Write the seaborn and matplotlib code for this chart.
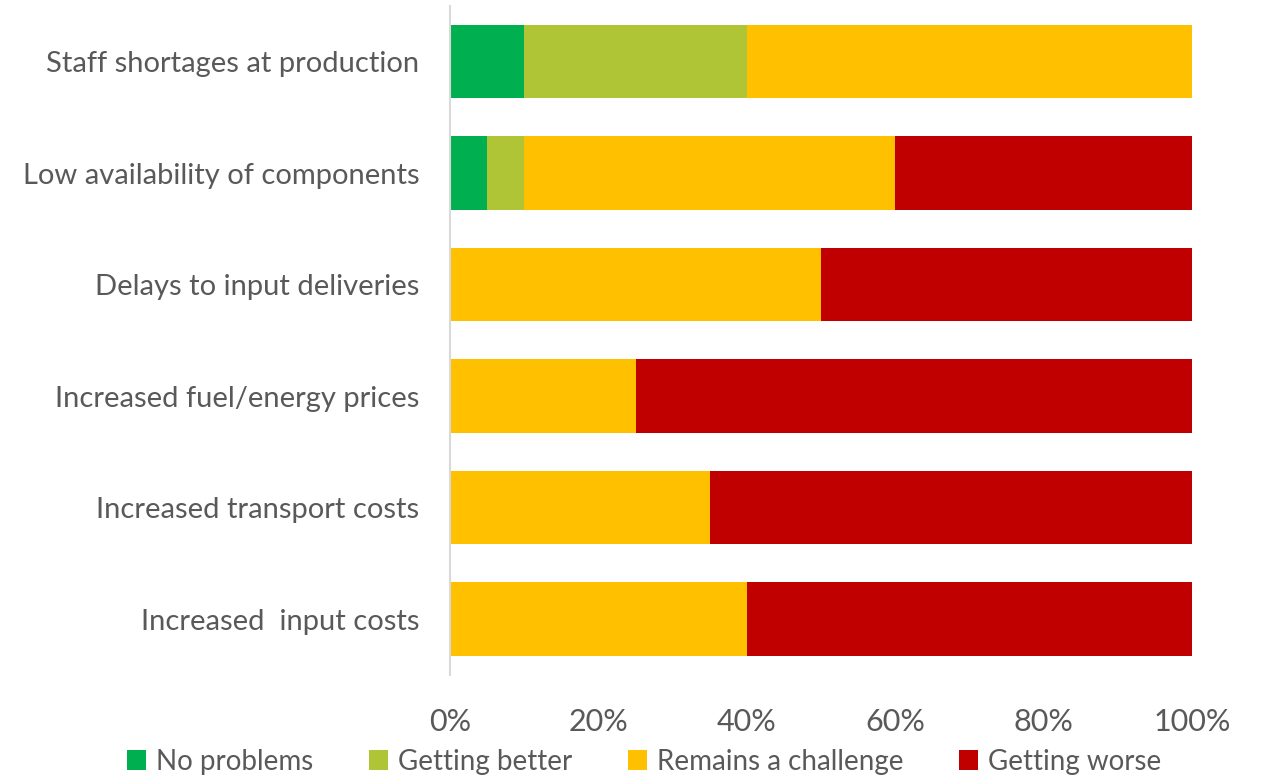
import matplotlib
matplotlib.use("Agg")
import matplotlib.pyplot as plt
import seaborn as sns
import pandas as pd
import numpy as np
from matplotlib.patches import Patch

categories = ["Staff shortages at production", "Low availability of components",
              "Delays to input deliveries", "Increased fuel/energy prices",
              "Increased transport costs", "Increased  input costs"]
series = ["No problems", "Getting better", "Remains a challenge", "Getting worse"]
no_problems = [10, 5, 0, 0, 0, 0]
getting_better = [30, 5, 0, 0, 0, 0]
remains = [60, 50, 50, 25, 35, 40]
getting_worse = [0, 40, 50, 75, 65, 60]
colors = ["#00B050", "#AFC536", "#FFC000", "#C00000"]
tick_labels = ["0%", "20%", "40%", "60%", "80%", "100%"]

sns.set_style("white")
plt.rcParams['font.family'] = ['Lato', 'DejaVu Sans']

vals = np.array([no_problems, getting_better, remains, getting_worse], dtype=float) / 100.0
cum = np.cumsum(vals, axis=0)

fig = plt.figure(figsize=(12.61, 7.78), dpi=100)
ax = fig.add_axes([450/1261, 1 - 675/778, 742/1261, (675 - 5.7)/778])

# draw from the total back to the first series so stacks appear
for i in range(len(series) - 1, -1, -1):
    df = pd.DataFrame({"cat": categories, "val": cum[i]})
    sns.barplot(data=df, y="cat", x="val", color=colors[i], ax=ax,
                width=0.66, linewidth=0, saturation=1, orient="h")

ax.set_xlim(0, 1)
ax.set_xticks(np.linspace(0, 1, 6))
ax.set_xticklabels(tick_labels)
ax.set_xlabel("")
ax.set_ylabel("")
for s in ["top", "right", "bottom"]:
    ax.spines[s].set_visible(False)
ax.spines["left"].set_color("#D9D9D9")
ax.spines["left"].set_linewidth(1.5)
ax.tick_params(axis="x", length=0, pad=24, labelsize=22, labelcolor="#595959")
ax.tick_params(axis="y", length=0, pad=22, labelsize=21, labelcolor="#595959")

handles = [Patch(facecolor=c, edgecolor="none") for c in colors]
fig.legend(handles, series, loc="lower center", bbox_to_anchor=(644/1261, -0.028),
           ncol=4, frameon=False, fontsize=20, labelcolor="#595959",
           handlelength=0.7, handleheight=0.7, handletextpad=0.35, columnspacing=2.0)

fig.savefig("out.png", dpi=100)
